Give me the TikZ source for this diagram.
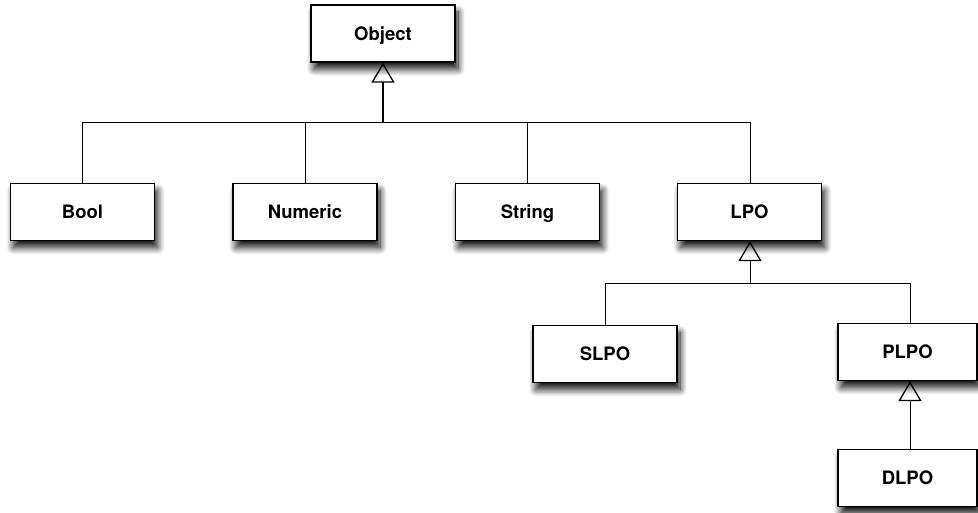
\documentclass[tikz,border=0pt]{standalone}
\usepackage{fontspec}
\setmainfont{TeX Gyre Heros}
\usetikzlibrary{arrows.meta,shadows.blur}

\tikzset{
  classbox/.style={draw=black, line width=1.3pt, fill=white, rectangle,
    minimum width=144pt, minimum height=57pt, inner sep=0pt,
    text height=16.5pt, text depth=3.3pt,
    font=\fontsize{18.5}{20}\selectfont\bfseries,
    blur shadow={shadow xshift=3pt, shadow yshift=-7pt, shadow blur radius=7pt,
      shadow blur steps=12, shadow opacity=95}},
  link/.style={draw=black, line width=1pt},
  inherit/.style={draw=black, line width=1pt,
    -{Triangle[open, width=23pt, length=20pt, line width=1.3pt]}},
}

\begin{document}
\begin{tikzpicture}[x=1pt, y=-1pt]
  \useasboundingbox (0,0) rectangle (978,513);

  % class boxes
  \node[classbox] (object)  at (383,33.5)  {Object};
  \node[classbox] (bool)    at (82.5,212)  {Bool};
  \node[classbox] (numeric) at (305,212)   {Numeric};
  \node[classbox] (string)  at (527.5,212) {String};
  \node[classbox] (lpo)     at (749.5,212) {LPO};
  \node[classbox] (slpo)    at (605,354)   {SLPO};
  \node[classbox, minimum width=139pt] (plpo) at (907.5,352) {PLPO};
  \node[classbox, minimum width=139pt] (dlpo) at (907.5,478) {DLPO};

  % junctions of the inheritance trees
  \coordinate (jobj) at (383,123);
  \coordinate (jlpo) at (750,284);

  % subclasses of Object
  \draw[link] (bool.north)    |- (jobj);
  \draw[link] (numeric.north) |- (jobj);
  \draw[link] (string.north)  |- (jobj);
  \draw[link] ([xshift=0.5pt]lpo.north) |- (jobj);
  \draw[inherit, line width=1.8pt] (jobj) -- (object.south);

  % subclasses of LPO
  \draw[link] (slpo.north) |- (jlpo);
  \draw[link] ([xshift=2.5pt]plpo.north) |- (jlpo);
  \draw[inherit] (jlpo) -- ([xshift=0.5pt]lpo.south);

  % DLPO extends PLPO
  \draw[inherit] ([xshift=2.5pt]dlpo.north) -- ([xshift=2.5pt]plpo.south);
\end{tikzpicture}
\end{document}
